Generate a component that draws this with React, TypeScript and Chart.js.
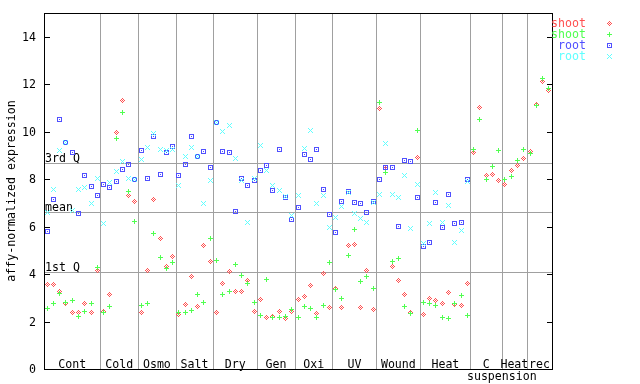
import React, { useEffect, useRef } from 'react';
import { Chart, registerables } from 'chart.js';

Chart.register(...registerables);

// ---- data ----
const groupLabels = ['Cont', 'Cold', 'Osmo', 'Salt', 'Dry', 'Gen', 'Oxi', 'UV', 'Wound', 'Heat', 'C', 'Heat', 'rec'];
const groupSizes = [9, 6, 6, 6, 7, 6, 6, 7, 7, 8, 5, 4, 4];
const subLabel = 'suspension';
const yTicks = [0, 2, 4, 6, 8, 10, 12, 14];
const statLabels = ['3rd Q', 'mean', '1st Q'];
const statValues = [8.67, 6.6, 4.07];
const seriesNames = ['shoot', 'shoot', 'root', 'root'];
const seriesColors = ['#ff5050', '#50ff50', '#5050ff', '#60ffff'];

const shootRed = [
  3.54, 3.58, 3.28, 2.77, 2.36, 2.4, 2.77, 2.4, 4.13,
  2.44, 3.16, 9.95, 11.32, 7.32, 7.07,
  2.4, 4.16, 7.15, 5.51, 4.33, 4.75,
  2.3, 2.73, 3.91, 2.64, 5.21, 4.54,
  2.39, 3.61, 4.12, 3.27, 3.27, 3.74, 2.43,
  2.94, 2.18, 2.22, 2.43, 2.14, 2.43,
  2.94, 3.06, 3.53, 2.35, 4.03, 2.6,
  3.4, 2.6, 5.21, 5.25, 2.58, 4.16, 2.52,
  10.98, 8.45, 4.33, 3.74, 3.15, 2.39, 8.92,
  2.3, 2.98, 2.89, 2.77, 3.23, 2.73, 2.68, 3.61,
  9.13, 11.03, 8.16, 8.2, 7.95,
  7.78, 8.37, 8.58, 8.88,
  9.17, 11.15, 12.12, 11.74,
];
const shootGreen = [
  2.56, 2.77, 3.2, 2.82, 2.87, 2.22, 2.44, 2.74, 4.26,
  2.36, 2.64, 9.72, 10.82, 7.49, 6.22,
  2.68, 2.77, 5.72, 4.71, 4.24, 4.5,
  2.39, 2.39, 2.47, 3.15, 2.81, 5.51,
  4.58, 3.15, 3.27, 4.41, 3.95, 3.61, 2.81,
  2.26, 3.78, 2.18, 2.18, 2.22, 2.51,
  2.18, 2.64, 2.56, 2.18, 2.68, 4.5,
  3.36, 2.98, 4.79, 5.89, 3.7, 3.91, 3.4,
  11.24, 8.26, 4.54, 4.66, 2.64, 2.35, 10.06,
  2.81, 2.77, 2.68, 2.18, 2.14, 2.77, 3.1, 2.26,
  9.26, 10.52, 7.99, 8.54, 9.21,
  7.99, 8.12, 8.79, 9.26,
  9.09, 11.11, 12.25, 11.83,
];
const rootBlue = [
  5.8, 7.16, 10.52, 9.54, 9.13, 6.56, 8.16, 7.7, 7.32,
  7.78, 7.66, 7.91, 8.42, 8.63, 7.99,
  9.21, 8.04, 9.8, 8.2, 9.13, 9.38,
  8.16, 8.62, 9.8, 8.95, 9.17, 8.5,
  10.39, 9.17, 9.13, 6.64, 8.03, 7.74, 7.95,
  8.37, 8.58, 7.52, 9.26, 7.23, 6.31,
  6.81, 9.05, 8.84, 9.26, 7.57, 6.52,
  5.76, 7.07, 7.46, 7.02, 6.98, 6.6, 7.07,
  7.99, 8.5, 8.5, 6.01, 8.79, 8.75, 7.23,
  5.17, 5.34, 7.02, 5.97, 7.36, 6.14, 6.18, 7.99,
  null, null, null, null, null,
  null, null, null, null,
  null, null, null, null,
];
const rootCyan = [
  6.6, 7.57, 9.21, 9.55, 6.69, 7.57, 7.66, 6.98, 8.04,
  6.14, 7.86, 8.33, 8.75, 8.04, 7.99,
  8.84, 9.34, 9.93, 9.26, 9.21, 9.24,
  7.74, 8.96, 9.34, 8.96, 6.98, 7.95,
  10.39, 10.02, 10.27, 8.88, 7.95, 6.18, 8.03,
  9.43, 8.37, 7.74, 7.53, 7.28, 6.48,
  7.29, 9.3, 10.06, 6.98, 7.29, 5.97,
  6.39, 6.86, 7.44, 6.56, 6.35, 6.18, 7.02,
  7.36, 9.51, 7.36, 7.23, 8.16, 5.93, 7.78,
  5.3, 6.14, 7.44, 6.18, 6.9, 5.34, 5.84, 7.91,
  null, null, null, null, null,
  null, null, null, null,
  null, null, null, null,
];

const seriesValues = [shootRed, shootGreen, rootBlue, rootCyan];

const patterns: string[][] = [
  ['..X..', '.X.X.', 'X.X.X', '.X.X.', '..X..'],
  ['..X..', '..X..', 'XXXXX', '..X..', '..X..'],
  ['XXXXX', 'X...X', 'X.X.X', 'X...X', 'XXXXX'],
  ['X...X', '.X.X.', '..X..', '.X.X.', 'X...X'],
];

function makeMarker(pattern: string[], color: string): HTMLCanvasElement {
  const c = document.createElement('canvas');
  c.width = pattern[0].length;
  c.height = pattern.length;
  const g = c.getContext('2d')!;
  g.fillStyle = color;
  pattern.forEach((row, r) => {
    for (let k = 0; k < row.length; k++) if (row[k] === 'X') g.fillRect(k, r, 1, 1);
  });
  return c;
}

const FONT = '11.6px "DejaVu Sans Mono", "Liberation Mono", monospace';

export default function App() {
  const ref = useRef<HTMLCanvasElement | null>(null);

  useEffect(() => {
    document.body.style.margin = '0';
    const canvas = ref.current!;
    const markers = seriesColors.map((c, k) => makeMarker(patterns[k], c));
    const totalSamples = groupSizes.reduce((s, v) => s + v, 0);

    const decor = {
      id: 'decor',
      beforeDatasetsDraw(chart: any) {
        const { ctx, chartArea: a, scales } = chart;
        const x = scales.x;
        const y = scales.y;
        ctx.save();
        ctx.strokeStyle = '#a0a0a0';
        ctx.lineWidth = 1;
        let cum = 0;
        groupSizes.slice(0, -1).forEach((s) => {
          cum += s;
          const px = Math.round(x.getPixelForValue(cum)) + 0.5;
          ctx.beginPath();
          ctx.moveTo(px, a.top);
          ctx.lineTo(px, a.bottom);
          ctx.stroke();
        });
        statValues.forEach((v) => {
          const py = Math.round(y.getPixelForValue(v)) + 0.5;
          ctx.beginPath();
          ctx.moveTo(a.left, py);
          ctx.lineTo(a.right, py);
          ctx.stroke();
        });
        ctx.fillStyle = '#000';
        ctx.font = FONT;
        ctx.textAlign = 'left';
        ctx.textBaseline = 'alphabetic';
        statLabels.forEach((t, k) => {
          ctx.fillText(t, a.left + 1, Math.round(y.getPixelForValue(statValues[k])) - 1);
        });
        ctx.restore();
        ctx.imageSmoothingEnabled = false;
      },
      afterDatasetsDraw(chart: any) {
        const { ctx, chartArea: a, scales } = chart;
        const x = scales.x;
        const y = scales.y;
        ctx.save();
        ctx.imageSmoothingEnabled = false;
        ctx.strokeStyle = '#000';
        ctx.lineWidth = 1;
        ctx.strokeRect(a.left + 0.5, a.top + 0.5, a.right - a.left, a.bottom - a.top);
        ctx.font = FONT;
        ctx.fillStyle = '#000';
        ctx.textAlign = 'right';
        ctx.textBaseline = 'middle';
        yTicks.forEach((t) => {
          const py = Math.round(y.getPixelForValue(t)) + 0.5;
          ctx.beginPath();
          ctx.moveTo(a.left, py);
          ctx.lineTo(a.left + 6, py);
          ctx.moveTo(a.right - 5, py);
          ctx.lineTo(a.right + 1, py);
          ctx.stroke();
          ctx.fillText(String(t), a.left - 8, py);
        });
        // group labels
        ctx.textAlign = 'center';
        let start = 0;
        let suspCenter = 0;
        groupSizes.forEach((s, k) => {
          const cx = (x.getPixelForValue(start) + x.getPixelForValue(start + s)) / 2;
          ctx.fillText(groupLabels[k], cx, a.bottom - 4.5);
          if (k === 10) suspCenter = x.getPixelForValue(start + s);
          start += s;
        });
        ctx.fillText(subLabel, suspCenter, a.bottom + 8);
        // y title
        ctx.save();
        ctx.translate(11.5, (a.top + a.bottom) / 2 + 0);
        ctx.rotate(-Math.PI / 2);
        ctx.textAlign = 'center';
        ctx.textBaseline = 'middle';
        ctx.fillText('affy-normalized expression', 0, 0);
        ctx.restore();
        // legend
        ctx.textAlign = 'right';
        ctx.textBaseline = 'middle';
        seriesNames.forEach((n, k) => {
          const ry = a.top + 11 + k * 11;
          ctx.fillStyle = seriesColors[k];
          ctx.fillText(n, a.right + 34, ry);
          ctx.drawImage(markers[k], 607, ry - 3);
        });
        ctx.restore();
        void totalSamples;
      },
    };

    const datasets = seriesValues.map((vals, k) => ({
      label: seriesNames[k],
      data: vals
        .map((v, i) => (v == null ? null : { x: i + 0.5, y: v }))
        .filter((p) => p !== null),
      pointStyle: markers[k],
      pointRadius: 3,
      showLine: false,
      order: 3 - k,
    }));

    const chart = new Chart(canvas, {
      type: 'scatter',
      data: { datasets: datasets as any },
      options: {
        animation: false,
        responsive: false,
        devicePixelRatio: 1,
        events: [],
        layout: { padding: { left: 44, right: 88, top: 13, bottom: 15 } },
        plugins: { legend: { display: false }, tooltip: { enabled: false } },
        scales: {
          x: { type: 'linear', min: 0, max: totalSamples, display: false },
          y: { type: 'linear', min: 0, max: 15, display: false },
        },
      },
      plugins: [decor],
    });
    return () => chart.destroy();
  }, []);

  return (
    <div style={{ width: 640, height: 384, background: '#fff' }}>
      <canvas ref={ref} width={640} height={384} style={{ display: 'block' }} />
    </div>
  );
}
